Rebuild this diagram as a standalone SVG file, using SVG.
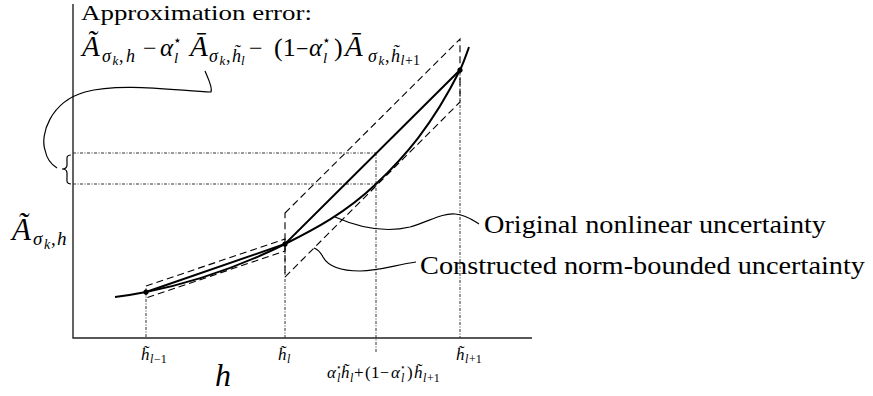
<svg xmlns="http://www.w3.org/2000/svg" width="873" height="396" viewBox="0 0 873 396">
<style>
.t{font-family:"Liberation Serif","DejaVu Serif",serif;fill:#000}
.i{font-style:italic}
.st{font-family:"DejaVu Sans",sans-serif;font-style:normal}
.axis{fill:none;stroke:#222;stroke-width:1.4}
.thick{fill:none;stroke:#000;stroke-width:2}
.dash{fill:none;stroke:#000;stroke-width:1.1;stroke-dasharray:7 4}
.dot{fill:none;stroke:#333;stroke-width:1;stroke-dasharray:3 1.5 1 1.5}
.call{fill:none;stroke:#000;stroke-width:1.2}
</style>
<rect width="873" height="396" fill="#fff"/>
<g id="axes">
<path class="axis" d="M73 4 V338 H532"/>
</g>
<g id="guides">
<path class="dot" d="M146 292 V338 M285 244 V338 M376 153 V353 M460 70 V338 M73 153 H376 M73 184 H376"/>
</g>
<g id="bounds">
<path class="dash" d="M285 213 L460 39 L460 102 L285 277 Z"/>
<path class="dash" d="M146 286 L285 239 L285 251 L146 298 Z"/>
</g>
<g id="curve">
<path class="thick" d="M115 297 C125.33 295.76 135.67 294.07 146 292 C192.33 282.73 238.67 267.17 285 244 C315.33 228.83 345.67 212.82 376 184 C404 157.4 432 126 460 70 C463 64 466 55.4 469 47"/>
<path class="thick" d="M146 292 L285 244 L460 70"/>
<circle cx="146" cy="292" r="2.6"/>
<circle cx="285" cy="244" r="2.6"/>
<circle cx="460" cy="70" r="2.6"/>
</g>
<g id="connectors">
<path class="call" d="M205 71 C208 78 213 88 211 92 C180 91 120 82 85 92 C50 102 40 135 45 150 C47 160 52 165 57 168"/>
<path class="call" d="M71 155 C66 155 67 158 67 162 L67 165 C67 168 65 169 62 169 C65 169 67 170 67 173 L67 177 C67 181 66 184 71 184"/>
<path class="call" d="M335 217 C360 228 385 233 410 227 C430 221 442 213 455 214 C467 215 474 221 479 224"/>
<path class="call" d="M314 248 C319 250 321 253 323 257 C328 266 340 271 360 271 C380 271 395 265 416 262"/>
</g>
<g id="label-error">
<text class="t" x="81" y="20" font-size="22" textLength="231" lengthAdjust="spacingAndGlyphs">Approximation error:</text>
<text class="t" font-size="29">
<tspan class="i" x="82" y="56">Ã</tspan>
<tspan class="i" x="102" y="62" font-size="18">σ</tspan>
<tspan class="i" x="112.5" y="65" font-size="13">k</tspan>
<tspan x="119" y="62" font-size="18">,</tspan>
<tspan class="i" x="126" y="62" font-size="18">h</tspan>
<tspan x="143" y="56" font-size="24">−</tspan>
<tspan class="i" x="160" y="56" font-size="25">α</tspan>
<tspan class="st" x="173" y="45" font-size="14">⋆</tspan>
<tspan class="i" x="174" y="63" font-size="15">l</tspan>
<tspan class="i" x="190" y="56">Ā</tspan>
<tspan class="i" x="209" y="62" font-size="18">σ</tspan>
<tspan class="i" x="219.5" y="65" font-size="13">k</tspan>
<tspan x="226" y="62" font-size="18">,</tspan>
<tspan class="i" x="232" y="62" font-size="18">h̃</tspan>
<tspan class="i" x="241" y="65" font-size="13">l</tspan>
<tspan x="249" y="56" font-size="24">−</tspan>
<tspan x="274" y="56" font-size="26">(1</tspan>
<tspan x="296" y="56" font-size="22">−</tspan>
<tspan class="i" x="309" y="56" font-size="25">α</tspan>
<tspan class="st" x="322" y="45" font-size="14">⋆</tspan>
<tspan class="i" x="323" y="63" font-size="15">l</tspan>
<tspan x="334" y="56" font-size="26">)</tspan>
<tspan class="i" x="345" y="56">Ā</tspan>
<tspan class="i" x="368" y="62" font-size="18">σ</tspan>
<tspan class="i" x="378.5" y="65" font-size="13">k</tspan>
<tspan x="385" y="62" font-size="18">,</tspan>
<tspan class="i" x="391" y="62" font-size="18">h̃</tspan>
<tspan class="i" x="400.5" y="65" font-size="14">l</tspan>
<tspan x="405" y="65" font-size="14">+1</tspan>
</text>
</g>
<g id="label-yaxis">
<text class="t" font-size="31">
<tspan class="i" x="12" y="240">Ã</tspan>
<tspan class="i" x="33" y="245" font-size="19">σ</tspan>
<tspan class="i" x="44" y="249" font-size="14">k</tspan>
<tspan x="51" y="245" font-size="19">,</tspan>
<tspan class="i" x="57" y="245" font-size="19">h</tspan>
</text>
</g>
<g id="label-original">
<text class="t" x="484" y="233" font-size="26" textLength="342" lengthAdjust="spacingAndGlyphs">Original nonlinear uncertainty</text>
</g>
<g id="label-constructed">
<text class="t" x="420" y="274" font-size="26" textLength="445" lengthAdjust="spacingAndGlyphs">Constructed norm-bounded uncertainty</text>
</g>
<g id="ticks">
<text class="t" font-size="17">
<tspan class="i" x="141" y="360">h̃</tspan>
<tspan class="i" x="150" y="363" font-size="12">l</tspan>
<tspan x="154" y="363" font-size="12">−1</tspan>
</text>
<text class="t" font-size="17">
<tspan class="i" x="278" y="360">h̃</tspan>
<tspan class="i" x="287" y="363" font-size="12">l</tspan>
</text>
<text class="t" font-size="17">
<tspan class="i" x="456" y="360">h̃</tspan>
<tspan class="i" x="465" y="363" font-size="12">l</tspan>
<tspan x="469" y="363" font-size="12">+1</tspan>
</text>
<text class="t" font-size="17">
<tspan class="i" x="327" y="378">α</tspan>
<tspan class="st" x="336" y="370" font-size="9">⋆</tspan>
<tspan class="i" x="337" y="382" font-size="12">l</tspan>
<tspan class="i" x="341" y="378">h̃</tspan>
<tspan class="i" x="350" y="382" font-size="12">l</tspan>
<tspan x="354" y="378">+</tspan>
<tspan x="365" y="378">(</tspan>
<tspan x="371" y="378">1</tspan>
<tspan x="380" y="378" font-size="16">−</tspan>
<tspan class="i" x="391" y="378">α</tspan>
<tspan class="st" x="400" y="370" font-size="9">⋆</tspan>
<tspan class="i" x="401" y="382" font-size="12">l</tspan>
<tspan x="407" y="378">)</tspan>
<tspan class="i" x="414" y="378">h̃</tspan>
<tspan class="i" x="423" y="382" font-size="12">l</tspan>
<tspan x="427" y="382" font-size="12">+1</tspan>
</text>
<text class="t i" x="215" y="386" font-size="32">h</text>
</g>
</svg>
